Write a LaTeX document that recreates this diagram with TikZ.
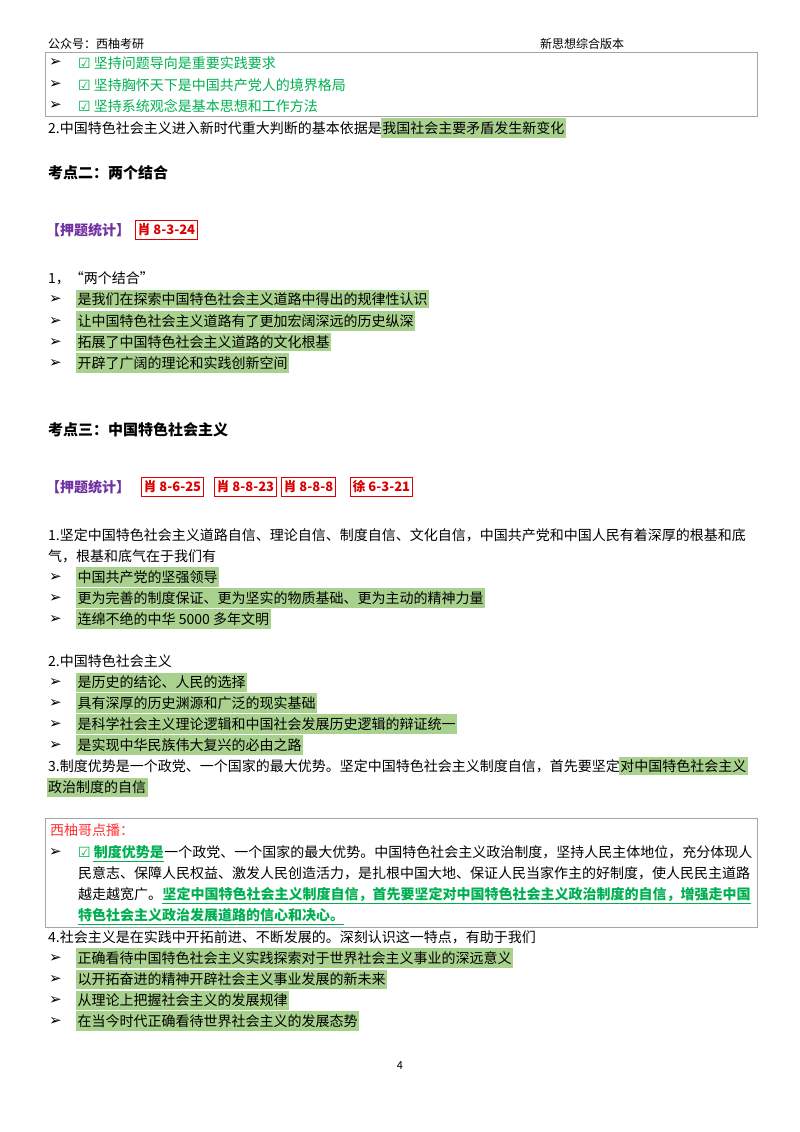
\documentclass[tikz,border=0pt]{standalone}
\usepackage{fontspec}
\setmainfont{Noto Sans CJK SC}
\newfontfamily\symf{DejaVu Sans}
\definecolor{hlg}{RGB}{169,209,142}
\definecolor{gtx}{RGB}{0,176,80}
\definecolor{rtx}{RGB}{220,0,0}
\definecolor{ptx}{RGB}{112,48,160}
\tikzset{
 t/.style={anchor=west,inner sep=0pt,font=\fontsize{14}{14}\selectfont},
 hl/.style={t,fill=hlg,inner xsep=1.5pt,inner ysep=3pt},
 gr/.style={t,text=gtx},
 gb/.style={t,text=gtx,font=\fontsize{14}{14}\selectfont\bfseries},
 arr/.style={anchor=west,inner sep=0pt,font=\symf\bfseries\fontsize{15}{15}\selectfont},
 hd/.style={t,font=\fontsize{15}{15}\selectfont\bfseries},
 rb/.style={draw=rtx,line width=1pt,text=rtx,inner xsep=2pt,inner ysep=3pt,font=\fontsize{13}{13}\selectfont\bfseries,anchor=west},
 frame/.style={draw=gray!70,line width=0.8pt},
}
\begin{document}
\begin{tikzpicture}[x=1pt,y=-1pt]
\useasboundingbox[fill=white] (0,0) rectangle (800,1132);
\node[t,font=\fontsize{12}{12}\selectfont] (h1) at (48,44) {公众号：西柚考研};
\node[t,font=\fontsize{12}{12}\selectfont] (h2) at (540,44) {新思想综合版本};
% top box
\draw[frame] (45,52) rectangle (757,116);
\node[arr] (a1) at (49,63) {➢}; \node[gr] (b1) at (78,63) {{\symf ☑} 坚持问题导向是重要实践要求};
\node[arr] (a2) at (49,85) {➢}; \node[gr] (b2) at (78,85) {{\symf ☑} 坚持胸怀天下是中国共产党人的境界格局};
\node[arr] (a3) at (49,106) {➢}; \node[gr] (b3) at (78,106) {{\symf ☑} 坚持系统观念是基本思想和工作方法};
\node[t] (l2) at (48,128) {2.中国特色社会主义进入新时代重大判断的基本依据是};
\node[hl,anchor=west] (l2h) at ([xshift=-1.5pt]l2.east) {我国社会主要矛盾发生新变化};
% section 2
\node[hd] (k2) at (48,173) {考点二：两个结合};
\node[t,text=ptx,font=\fontsize{14}{14}\selectfont\bfseries] (y1) at (46,230) {【押题统计】};
\node[rb] (r1) at (135,230) {肖 8-3-24};
\node[t] (s1) at (48,278) {1，“两个结合”};
\node[arr] (c1) at (49,299) {➢}; \node[hl] (d1) at (76,299) {是我们在探索中国特色社会主义道路中得出的规律性认识};
\node[arr] (c2) at (49,321) {➢}; \node[hl] (d2) at (76,321) {让中国特色社会主义道路有了更加宏阔深远的历史纵深};
\node[arr] (c3) at (49,342) {➢}; \node[hl] (d3) at (76,342) {拓展了中国特色社会主义道路的文化根基};
\node[arr] (c4) at (49,363) {➢}; \node[hl] (d4) at (76,363) {开辟了广阔的理论和实践创新空间};
% section 3
\node[hd] (k3) at (48,430) {考点三：中国特色社会主义};
\node[t,text=ptx,font=\fontsize{14}{14}\selectfont\bfseries] (y2) at (46,487) {【押题统计】};
\node[rb] (r2) at (141,487) {肖 8-6-25};
\node[rb] (r3) at (214,487) {肖 8-8-23};
\node[rb] (r4) at (281,487) {肖 8-8-8};
\node[rb] (r5) at (350,487) {徐 6-3-21};
\node[t] (p1) at (48,535) {1.坚定中国特色社会主义道路自信、理论自信、制度自信、文化自信，中国共产党和中国人民有着深厚的根基和底};
\node[t] (p1b) at (48,556) {气，根基和底气在于我们有};
\node[arr] (e1) at (49,577) {➢}; \node[hl] (f1) at (76,577) {中国共产党的坚强领导};
\node[arr] (e2) at (49,598) {➢}; \node[hl] (f2) at (76,598) {更为完善的制度保证、更为坚实的物质基础、更为主动的精神力量};
\node[arr] (e3) at (49,619) {➢}; \node[hl] (f3) at (76,619) {连绵不绝的中华 5000 多年文明};
\node[t] (p2) at (48,661) {2.中国特色社会主义};
\node[arr] (g1) at (49,682) {➢}; \node[hl] (h1b) at (76,682) {是历史的结论、人民的选择};
\node[arr] (g2) at (49,703) {➢}; \node[hl] (h2b) at (76,703) {具有深厚的历史渊源和广泛的现实基础};
\node[arr] (g3) at (49,724) {➢}; \node[hl] (h3b) at (76,724) {是科学社会主义理论逻辑和中国社会发展历史逻辑的辩证统一};
\node[arr] (g4) at (49,745) {➢}; \node[hl] (h4b) at (76,745) {是实现中华民族伟大复兴的必由之路};
\node[t] (p3) at (48,766) {3.制度优势是一个政党、一个国家的最大优势。坚定中国特色社会主义制度自信，首先要坚定};
\node[hl,anchor=west] (p3h) at ([xshift=-1.5pt]p3.east) {对中国特色社会主义};
\node[hl] (p3b) at (46.5,787) {政治制度的自信};
% comment box
\draw[frame] (45,818) rectangle (757,927);
\node[t,text=red!80] (x0) at (50,830) {西柚哥点播：};
\node[arr] (x1a) at (49,852) {➢};
\node[gb] (x1g) at (78,852) {{\symf\mdseries ☑} 制度优势是};
\node[t,anchor=west] (x1) at (x1g.east) {一个政党、一个国家的最大优势。中国特色社会主义政治制度，坚持人民主体地位，充分体现人};
\node[t] (x2) at (78,873) {民意志、保障人民权益、激发人民创造活力，是扎根中国大地、保证人民当家作主的好制度，使人民民主道路};
\node[t] (x3) at (78,894) {越走越宽广。};
\node[gb,anchor=west] (x3g) at (x3.east) {坚定中国特色社会主义制度自信，首先要坚定对中国特色社会主义政治制度的自信，增强走中国};
\node[gb] (x4g) at (78,915) {特色社会主义政治发展道路的信心和决心。};
\draw[gtx,line width=0.8pt] ([xshift=15pt,yshift=-2pt]x1g.south west) -- ([yshift=-2pt]x1g.south east);
\draw[gtx,line width=0.8pt] ([yshift=-2pt]x3g.south west) -- ([yshift=-2pt]x3g.south east);
\draw[gtx,line width=0.8pt] ([yshift=-2pt]x4g.south west) -- ([yshift=-2pt]x4g.south east);
\node[t] (p4) at (48,937) {4.社会主义是在实践中开拓前进、不断发展的。深刻认识这一特点，有助于我们};
\node[arr] (m1) at (49,958) {➢}; \node[hl] (n1) at (76,958) {正确看待中国特色社会主义实践探索对于世界社会主义事业的深远意义};
\node[arr] (m2) at (49,979) {➢}; \node[hl] (n2) at (76,979) {以开拓奋进的精神开辟社会主义事业发展的新未来};
\node[arr] (m3) at (49,1000) {➢}; \node[hl] (n3) at (76,1000) {从理论上把握社会主义的发展规律};
\node[arr] (m4) at (49,1021) {➢}; \node[hl] (n4) at (76,1021) {在当今时代正确看待世界社会主义的发展态势};
\node[t,font=\fontsize{11}{11}\selectfont,anchor=center] (pg) at (400,1066) {4};
\end{tikzpicture}
\end{document}
